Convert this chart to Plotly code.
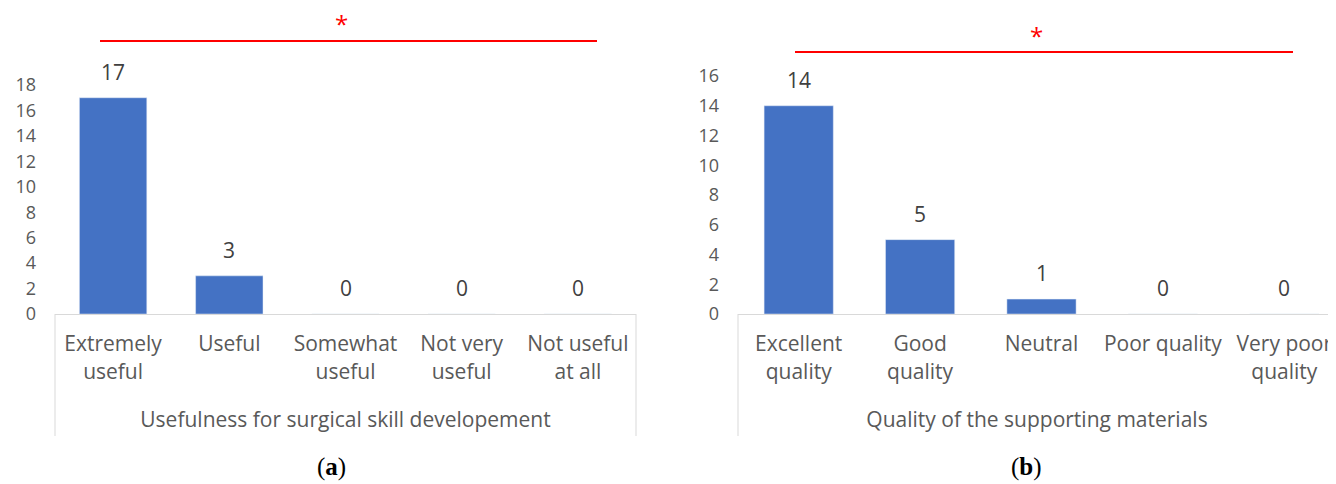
import plotly.graph_objects as go

# ---- data ----
cats_a = ["Extremely<br>useful", "Useful", "Somewhat<br>useful", "Not very<br>useful", "Not useful<br>at all"]
vals_a = [17, 3, 0, 0, 0]
title_a = "Usefulness for surgical skill developement"

cats_b = ["Excellent<br>quality", "Good<br>quality", "Neutral", "Poor quality", "Very poor<br>quality"]
vals_b = [14, 5, 1, 0, 0]
title_b = "Quality of the supporting materials"

yticks_a = [0, 2, 4, 6, 8, 10, 12, 14, 16, 18]
yticks_b = [0, 2, 4, 6, 8, 10, 12, 14, 16]

OFF = 8  # default page body margin
W, H = 1336 - OFF, 484 - OFF
BAR = "#4472C4"
TXT = "#595959"
LBL = "#404040"
AX = "#D9D9D9"
FONT = "Open Sans"

def px(x):
    return (x - OFF) / W

def py(y):
    return (H - (y - OFF)) / H

fig = go.Figure()
fig.add_trace(go.Bar(x=cats_a, y=vals_a, marker_color=BAR, width=0.58,
                     xaxis="x", yaxis="y", showlegend=False, hoverinfo="skip"))
fig.add_trace(go.Bar(x=cats_b, y=vals_b, marker_color=BAR, width=0.57,
                     xaxis="x2", yaxis="y2", showlegend=False, hoverinfo="skip"))

ybot = py(314)
xa_common = dict(showline=True, linecolor=AX, linewidth=1, showgrid=False, zeroline=False,
                 ticks="", tickfont=dict(family=FONT, size=21, color=TXT),
                 ticklabelstandoff=11, fixedrange=True, tickangle=0, automargin=False)
ya_common = dict(showline=False, showgrid=False, zeroline=False, ticks="",
                 tickfont=dict(family=FONT, size=18, color=TXT), ticklabelstandoff=18,
                 fixedrange=True, automargin=False)

fig.update_layout(
    width=W, height=H, autosize=False,
    margin=dict(l=0, r=0, t=0, b=0, pad=0),
    paper_bgcolor="white", plot_bgcolor="white",
    xaxis=dict(domain=[px(55), px(636)], anchor="y", range=[-0.5, 4.5],
               title=dict(text=title_a, font=dict(family=FONT, size=21, color=TXT), standoff=28),
               **xa_common),
    yaxis=dict(domain=[ybot, py(85)], anchor="x", range=[0, 18], tickvals=yticks_a, **ya_common),
    xaxis2=dict(domain=[px(738), 1.0], anchor="y2", range=[-0.5, 4.5 - 9 / 121.5],
                title=dict(text=title_b, font=dict(family=FONT, size=21, color=TXT), standoff=28),
                **xa_common),
    yaxis2=dict(domain=[ybot, py(76)], anchor="x2", range=[0, 16], tickvals=yticks_b, **ya_common),
)

# data labels
for c, v in zip(cats_a, vals_a):
    fig.add_annotation(x=c, y=v, xref="x", yref="y", text=str(v), showarrow=False,
                       yanchor="middle", yshift=26, font=dict(family=FONT, size=21, color=LBL))
for c, v in zip(cats_b, vals_b):
    fig.add_annotation(x=c, y=v, xref="x2", yref="y2", text=str(v), showarrow=False,
                       yanchor="middle", yshift=26, font=dict(family=FONT, size=21, color=LBL))

# category frame (vertical borders under axis)
for xr in ["x domain", "x2 domain"]:
    for xv in [0, 1]:
        fig.add_shape(type="line", xref=xr, yref="paper", x0=xv, x1=xv,
                      y0=ybot, y1=py(436), line=dict(color=AX, width=1))

# significance brackets
for x0, x1, yl, xs, ys in [(100, 597, 41, 341, 24), (795, 1293, 52, 1036, 35)]:
    fig.add_shape(type="line", xref="paper", yref="paper", x0=px(x0), x1=px(x1),
                  y0=py(yl), y1=py(yl), line=dict(color="#FF0000", width=2))
    fig.add_annotation(xref="paper", yref="paper", x=px(xs), y=py(ys), text="*",
                       showarrow=False, xanchor="center", yanchor="middle",
                       font=dict(family=FONT, size=24, color="#FF0000"))

# panel labels
for t, xc in [("(<b>a</b>)", 331), ("(<b>b</b>)", 1026)]:
    fig.add_annotation(xref="paper", yref="paper", x=px(xc), y=py(467), text=t,
                       showarrow=False, xanchor="center", yanchor="middle",
                       font=dict(family="Liberation Serif", size=25, color="black"))

fig.write_html("out.html")
